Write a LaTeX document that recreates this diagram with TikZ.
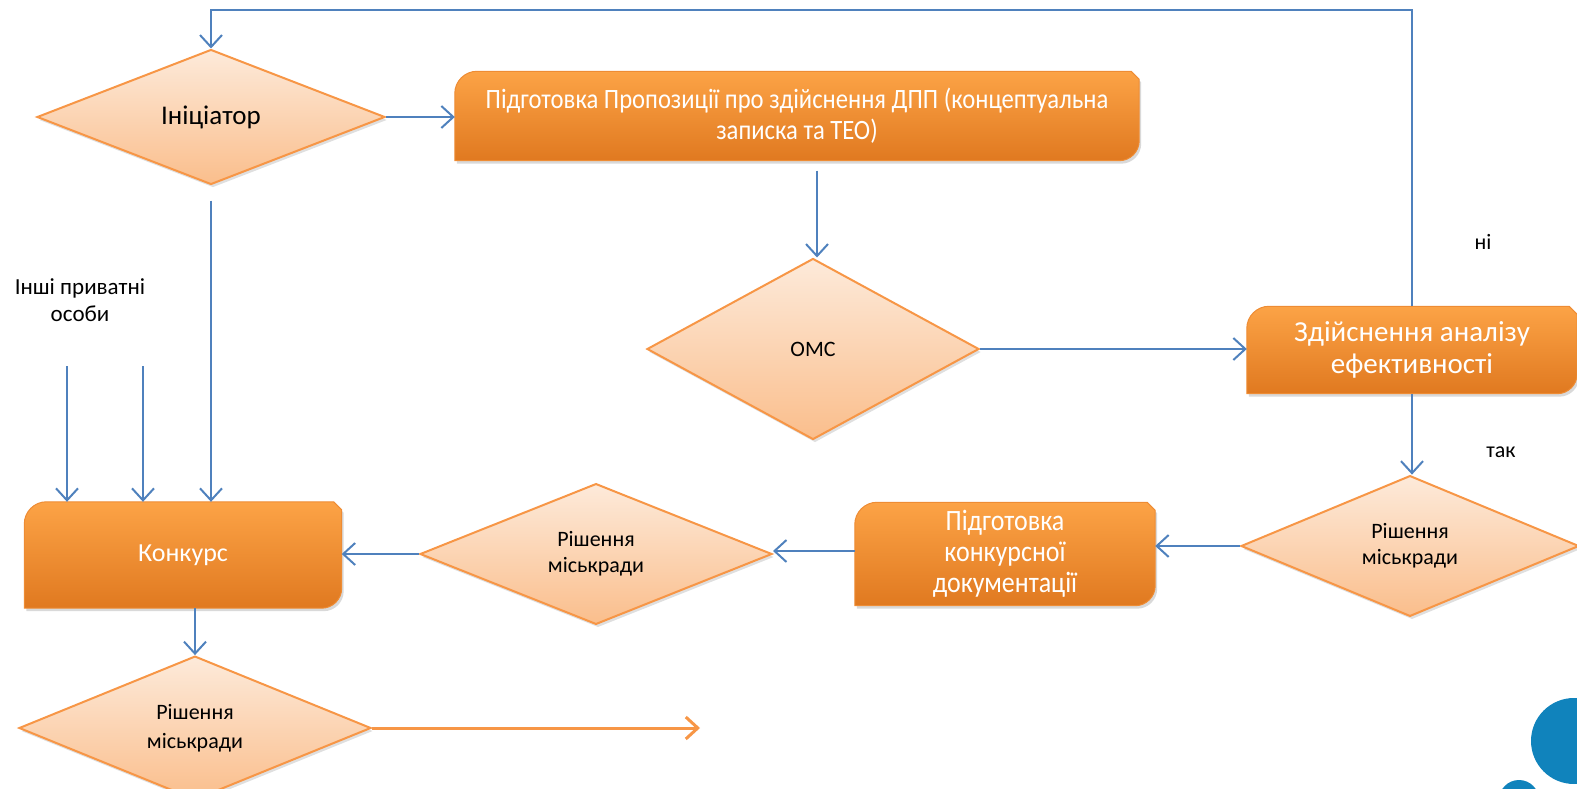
\documentclass[tikz,border=0pt]{standalone}
\usepackage{fontspec}
\setmainfont{Carlito}
\newfontfamily\narrowfont[FakeStretch=0.88]{Carlito}
\usetikzlibrary{shapes.geometric,arrows.meta,shadows,backgrounds}

\definecolor{flowblue}{RGB}{79,129,189}
\definecolor{accent}{RGB}{247,150,70}
\definecolor{dtop}{RGB}{253,234,218}
\definecolor{dbot}{RGB}{250,190,140}
\definecolor{btop}{RGB}{252,163,70}
\definecolor{bbot}{RGB}{224,121,32}
\definecolor{bedge}{RGB}{238,140,52}
\definecolor{dotblue}{RGB}{16,131,188}

\begin{document}
\begin{tikzpicture}[x=1pt, y=-1pt,
			every node/.style = {align=center, font=\fontsize{22}{26}\selectfont},
			decision/.style = {shape=diamond, draw=accent, line width=2pt, inner sep=0pt,
				top color=dtop, bottom color=dbot,
				drop shadow={opacity=0.25, shadow xshift=2pt, shadow yshift=-3pt}},
			process/.style = {shape=rectangle, text=white, inner sep=0pt},
			boxshape/.style = {draw=bedge, line width=1pt, top color=btop, bottom color=bbot,
				drop shadow={opacity=0.3, shadow xshift=2pt, shadow yshift=-3pt}},
			flow/.style = {draw=flowblue, line width=2pt, -{Straight Barb[length=12pt,width=22pt]}}]

			\useasboundingbox (0,0) rectangle (1577,789);

			% decisions
			\node[decision, minimum width=348pt, minimum height=135pt,
				font=\fontsize{27}{32}\selectfont] (init) at (211,117) {Ініціатор};
			\node[decision, minimum width=332pt, minimum height=181pt] (omc) at (813,349) {ОМС};
			\node[decision, minimum width=338pt, minimum height=120pt] (dec1) at (1410,546) {Рішення\\міськради};
			\node[decision, minimum width=352pt, minimum height=122pt] (dec2) at (596,554) {Рішення\\міськради};
			\node[decision, minimum width=352pt, minimum height=122pt,
				font=\fontsize{22}{29}\selectfont] (dec3) at (195,728) {Рішення\\міськради};

			% processes
			\node[process, minimum width=684pt, minimum height=89pt,
				font=\narrowfont\fontsize{28}{31}\selectfont] (prop) at (797,116)
				{Підготовка Пропозиції про здійснення ДПП (концептуальна\\записка та ТЕО)};
			\node[process, minimum width=330pt, minimum height=87pt,
				font=\fontsize{29}{32}\selectfont] (eff) at (1412,350) {Здійснення аналізу\\ефективності};
			\node[process, minimum width=300pt, minimum height=103pt,
				font=\narrowfont\fontsize{29.5}{31}\selectfont] (doc) at (1005,554) {Підготовка\\конкурсної\\документації};
			\node[process, minimum width=317pt, minimum height=106pt,
				font=\fontsize{26}{31}\selectfont] (konk) at (183,555) {Конкурс};

			\begin{scope}[on background layer]
				\foreach \n in {prop, eff, doc, konk}
					\path[boxshape] (\n.south west) -- ([yshift=-22pt]\n.north west)
						.. controls ([yshift=-10pt]\n.north west) and ([xshift=10pt]\n.north west) .. ([xshift=22pt]\n.north west)
						-- ([xshift=-8pt]\n.north east) -- ([yshift=-8pt]\n.north east)
						-- ([yshift=20pt]\n.south east)
						.. controls ([yshift=9pt]\n.south east) and ([xshift=-9pt]\n.south east) .. ([xshift=-20pt]\n.south east)
						-- cycle;
			\end{scope}

			% labels
			\node[font=\fontsize{23}{27}\selectfont] (others) at (80,300) {Інші приватні\\особи};
			\node (no) at (1483,242) {ні};
			\node (yes) at (1501,452) {так};

			\coordinate (top) at (0,10);
			\coordinate (p1) at (67,366);
			\coordinate (p2) at (143,366);
			\coordinate (out) at (700,0);

			% connectors
			\draw[flow] (eff.north) -- (eff.north |- top) -| (init.north);
			\draw[flow] (init.east) -- (init.east -| prop.west);
			\draw[flow] ([xshift=20pt, yshift=-10pt]prop.south) -- ([xshift=20pt]prop.south |- omc.north);
			\draw[flow] (omc.east) -- (omc.east -| eff.west);
			\draw[flow] (eff.south) -- (eff.south |- dec1.north);
			\draw[flow] (dec1.west) -- (dec1.west -| doc.east);
			\draw[flow] ([yshift=3pt]doc.west) -- ([yshift=3pt]doc.west -| dec2.east);
			\draw[flow] (dec2.west) -- (dec2.west -| konk.east);
			\draw[flow] ([yshift=-15pt]init.south) -- (init.south |- konk.north);
			\draw[flow] (p1) -- (p1 |- konk.north);
			\draw[flow] (p2) -- (p2 |- konk.north);
			\draw[flow] (dec3.north |- konk.south) -- (dec3.north);
			\draw[flow, draw=accent, line width=3pt] (dec3.east) -- (dec3.east -| out);

			% corner dots
			\fill[dotblue] (1574,741) circle (43);
			\fill[dotblue] (1519,800) circle (20);
			\end{tikzpicture}
\end{document}
